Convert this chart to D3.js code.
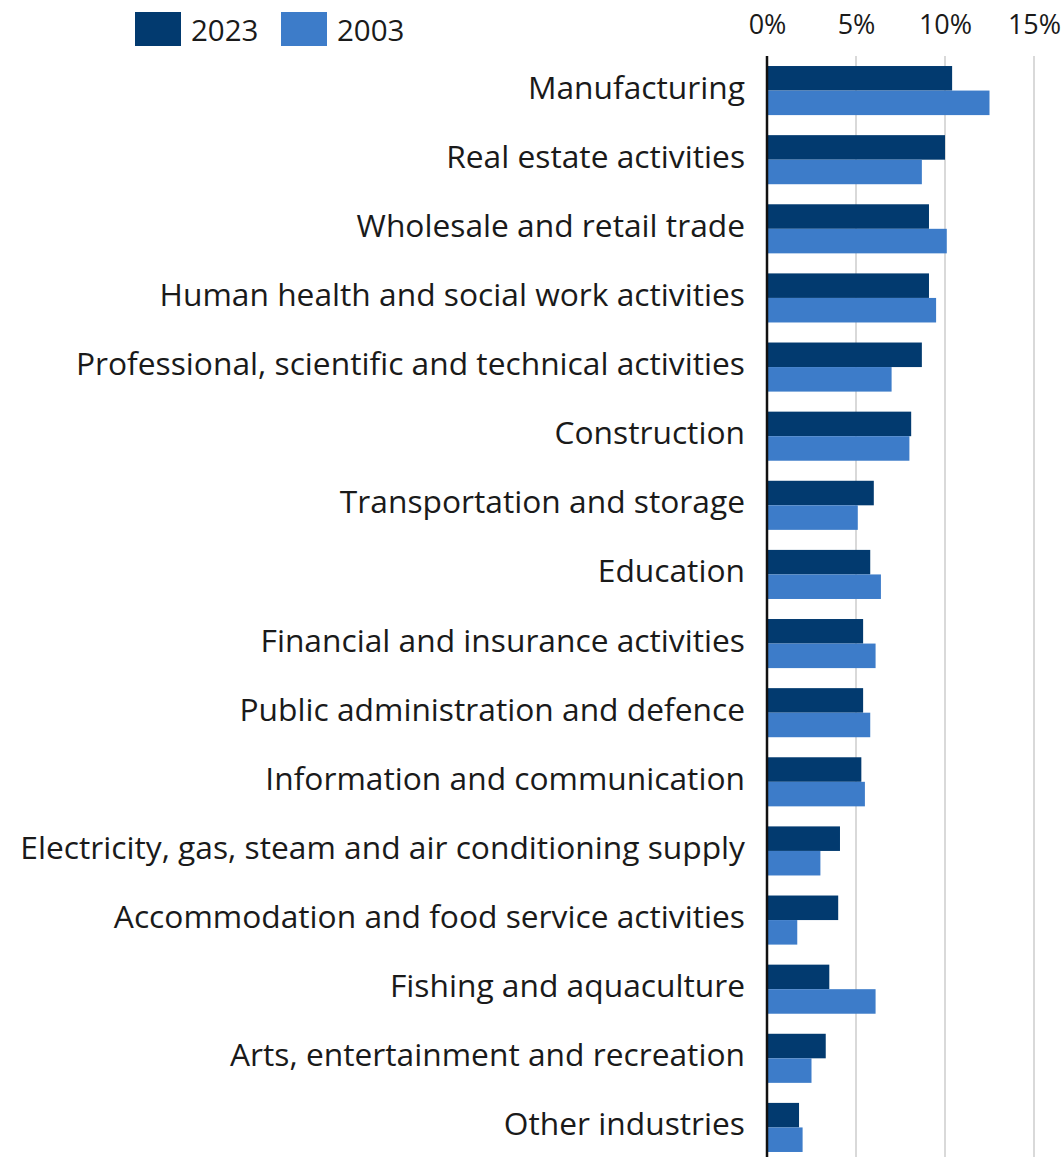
<!DOCTYPE html>
<html>
<head>
<meta charset="utf-8">
<script src="https://cdn.jsdelivr.net/npm/d3@7"></script>
<style>
  body { margin: 0; background: #fff; }
  text { font-family: "Open Sans", Lato, sans-serif; fill: #1a1a1a; }
</style>
</head>
<body>
<div id="chart"></div>
<script>
const categories = [
  "Manufacturing",
  "Real estate activities",
  "Wholesale and retail trade",
  "Human health and social work activities",
  "Professional, scientific and technical activities",
  "Construction",
  "Transportation and storage",
  "Education",
  "Financial and insurance activities",
  "Public administration and defence",
  "Information and communication",
  "Electricity, gas, steam and air conditioning supply",
  "Accommodation and food service activities",
  "Fishing and aquaculture",
  "Arts, entertainment and recreation",
  "Other industries"
];
const values2023 = [10.4, 10.0, 9.1, 9.1, 8.7, 8.1, 6.0, 5.8, 5.4, 5.4, 5.3, 4.1, 4.0, 3.5, 3.3, 1.8];
const values2003 = [12.5, 8.7, 10.1, 9.5, 7.0, 8.0, 5.1, 6.4, 6.1, 5.8, 5.5, 3.0, 1.7, 6.1, 2.5, 2.0];
const series = ["2023", "2003"];
const ticks = [0, 5, 10, 15];
const colors = ["#023a6f", "#3d7cc9"];

const width = 1064, height = 1157;
const svg = d3.select("#chart")
  .append("svg")
  .attr("width", width)
  .attr("height", height);

const x = d3.scaleLinear()
  .domain([0, 15])
  .range([767, 1034]);

const y = d3.scaleBand()
  .domain(categories)
  .range([56, 1162])
  .paddingInner(0.29)
  .paddingOuter(0.145);

const ySub = d3.scaleBand()
  .domain(series)
  .range([0, y.bandwidth()]);

// gridlines
svg.append("g")
  .selectAll("line")
  .data(ticks.slice(1))
  .join("line")
  .attr("x1", d => x(d))
  .attr("x2", d => x(d))
  .attr("y1", 56)
  .attr("y2", height)
  .attr("stroke", "#d9d9d9")
  .attr("stroke-width", 2);

// top axis
const axis = svg.append("g")
  .attr("transform", "translate(0,37)")
  .call(d3.axisTop(x).tickValues(ticks).tickFormat(d => d + "%").tickSize(0));
axis.select(".domain").remove();
axis.selectAll("text")
  .attr("font-size", 27)
  .attr("dy", 0)
  .style("font-family", "'Open Sans', sans-serif")
  .attr("fill", "#1a1a1a");

// bars
const groups = svg.append("g")
  .selectAll("g")
  .data(categories.map((c, i) => ({ cat: c, vals: [values2023[i], values2003[i]] })))
  .join("g")
  .attr("transform", d => `translate(0,${y(d.cat)})`);

groups.selectAll("rect")
  .data(d => d.vals.map((v, j) => ({ key: series[j], v, j })))
  .join("rect")
  .attr("x", x(0))
  .attr("y", d => ySub(d.key))
  .attr("width", d => x(d.v) - x(0))
  .attr("height", ySub.bandwidth())
  .attr("fill", d => colors[d.j]);

// category labels
const labels = svg.append("g")
  .selectAll("text")
  .data(categories)
  .join("text")
  .attr("x", 745)
  .attr("y", d => y(d) + y.bandwidth() / 2 + 8)
  .attr("text-anchor", "end")
  .attr("font-size", 28)
  .text(d => d);

// fit the longest label to the width it takes in the original
const longest = d3.max(labels.nodes(), n => n.getComputedTextLength());
labels.attr("font-size", 28 * 725 / longest);

// zero line
svg.append("line")
  .attr("x1", x(0))
  .attr("x2", x(0))
  .attr("y1", 56)
  .attr("y2", height)
  .attr("stroke", "#111")
  .attr("stroke-width", 2.5);

// legend
const legend = svg.append("g")
  .selectAll("g")
  .data(series)
  .join("g")
  .attr("transform", (d, i) => `translate(${135 + i * 146},12)`);

legend.append("rect")
  .attr("width", 46)
  .attr("height", 34)
  .attr("fill", (d, i) => colors[i]);

legend.append("text")
  .attr("x", 56)
  .attr("y", 29)
  .attr("font-size", 29.5)
  .text(d => d);
</script>
</body>
</html>
